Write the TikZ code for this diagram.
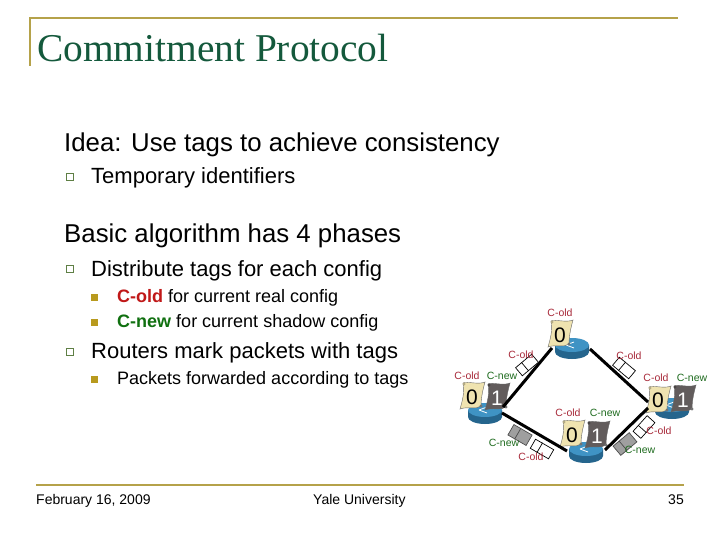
\documentclass[tikz,border=0pt]{standalone}
\usepackage{fontspec}
\setmainfont{Liberation Sans}
\newfontfamily\titlefont{Liberation Serif}
\usetikzlibrary{calc}
\definecolor{titlegreen}{HTML}{14593C}
\definecolor{rulegold}{HTML}{B5A24A}
\definecolor{bulletgold}{HTML}{B89A1E}
\definecolor{qgreen}{HTML}{5F7F45}
\definecolor{oldred}{HTML}{C01818}
\definecolor{newgreen}{HTML}{107010}
\definecolor{lblred}{HTML}{A82A3A}
\definecolor{lblgreen}{HTML}{1E6B1E}
\definecolor{scrollcream}{HTML}{EFE3B0}
\definecolor{scrollgrey}{HTML}{625C5C}
\definecolor{routerblue}{HTML}{2F7FB0}
\definecolor{routertop}{HTML}{3F93C4}
\tikzset{
  body/.style={anchor=base west,inner sep=0pt,text=black},
  lvlone/.style={body,font=\fontsize{25.8}{28}\selectfont},
  lvltwo/.style={body,font=\fontsize{22}{24}\selectfont},
  lvlthree/.style={body,font=\fontsize{18}{21}\selectfont},
  foot/.style={body,font=\fontsize{14}{17}\selectfont},
  tagold/.style={anchor=center,inner sep=0pt,text=lblred,font=\fontsize{10.5}{12}\selectfont},
  tagnew/.style={anchor=center,inner sep=0pt,text=lblgreen,font=\fontsize{10.5}{12}\selectfont},
  wire/.style={draw=black,line width=3pt},
  qbullet/.style={draw=qgreen,fill=white,line width=1pt,minimum size=7pt,inner sep=0pt},
  nbullet/.style={draw=none,fill=bulletgold,minimum size=7pt,inner sep=0pt},
  pktwhite/.style={draw=black,fill=white,line width=0.7pt,minimum width=21pt,minimum height=10.5pt,inner sep=0pt},
  pktgrey/.style={draw=black!70,fill=gray!75,line width=0.7pt,minimum width=21pt,minimum height=12pt,inner sep=0pt},
  routerhub/.style={circle,minimum size=20pt,inner sep=0pt},
  scrollnum/.style={inner sep=0pt,font=\fontsize{21}{23}\selectfont}
}
\newcommand{\routerdisc}[2]{%
  \fill[routerblue!80!black] (#1-17,#2-3) -- (#1-17,#2+4) arc[start angle=180,end angle=0,x radius=17,y radius=7] -- (#1+17,#2-3) -- cycle;
  \fill[routertop] (#1,#2-3) ellipse[x radius=17,y radius=7];
  \draw[white,line width=0.8pt] (#1-6,#2-3) -- (#1+2,#2-6) (#1-6,#2-3) -- (#1+2,#2);
}
\newcommand{\scrollshape}[3]{% cx cy fill
  \fill[#3,draw=black!60,line width=0.4pt]
    (#1-9,#2-13) .. controls (#1-4,#2-15) and (#1+6,#2-11) .. (#1+13,#2-14)
    .. controls (#1+11,#2-7) and (#1+9,#2+2) .. (#1+9,#2+10)
    .. controls (#1+4,#2+14) and (#1-4,#2+10) .. (#1-12,#2+13)
    .. controls (#1-10,#2+6) and (#1-7,#2-4) .. (#1-9,#2-13) -- cycle;
  \fill[#3!75!black] (#1-8,#2-12) circle[radius=1.6];
  \fill[black!55] (#1+9,#2+10) circle[radius=1.6];
}
\newcommand{\packetdiv}[2]{%
  \draw[#2] ($(#1.north west)!0.38!(#1.north east)$) -- ($(#1.south west)!0.38!(#1.south east)$);
}
\begin{document}
\begin{tikzpicture}[x=1pt,y=-1pt]
\useasboundingbox (0,0) rectangle (720,540);
\fill[white] (0,0) rectangle (720,540);
% header rule
\draw[rulegold,line width=1.6pt] (30,66) -- (30,18) -- (678,18);
\draw[rulegold,line width=1.6pt] (36,485) -- (684,485);
\node[anchor=base west,inner sep=0pt,text=titlegreen,font=\titlefont\fontsize{39.4}{42}\selectfont] (title) at (37,62) {Commitment Protocol};
% text
\node[lvlone] (idea) at (64,152) {Idea: Use tags to achieve consistency};
\node[qbullet] (b1) at (70,177) {};
\node[lvltwo] (t1) at (91,184) {Temporary identifiers};
\node[lvlone] (basic) at (64,243) {Basic algorithm has 4 phases};
\node[qbullet] (b2) at (70,269) {};
\node[lvltwo] (t2) at (91,276) {Distribute tags for each config};
\node[nbullet] (b3) at (94,297) {};
\node[lvlthree] (t3) at (117,302) {\textcolor{oldred}{\textbf{C-old}} for current real config};
\node[nbullet] (b4) at (94,322) {};
\node[lvlthree] (t4) at (117,327) {\textcolor{newgreen}{\textbf{C-new}} for current shadow config};
\node[qbullet] (b5) at (70,352) {};
\node[lvltwo] (t5) at (91,358) {Routers mark packets with tags};
\node[nbullet] (b6) at (94,379) {};
\node[lvlthree] (t6) at (117,384) {Packets forwarded according to tags};
% footer
\node[foot] (date) at (36,504) {February 16, 2009};
\node[foot] (yale) at (313,504) {Yale University};
\node[foot,anchor=base east] (page) at (684,504) {35};
% routers
\routerdisc{572}{348}
\routerdisc{485}{413}
\routerdisc{672}{408}
\routerdisc{586}{452}
\node[routerhub] (rtop) at (572,348) {};
\node[routerhub] (rleft) at (485,413) {};
\node[routerhub] (rright) at (672,408) {};
\node[routerhub] (rbot) at (586,452) {};
% scrolls
\scrollshape{560}{334}{scrollcream}
\node[scrollnum,text=black] (s0t) at (560,335) {0};
\scrollshape{472}{396}{scrollcream}
\node[scrollnum,text=black] (s0l) at (472,397) {0};
\scrollshape{497}{397}{scrollgrey}
\node[scrollnum,text=white] (s1l) at (497,398) {1};
\scrollshape{658}{400}{scrollcream}
\node[scrollnum,text=black] (s0r) at (658,400) {0};
\scrollshape{683}{399}{scrollgrey}
\node[scrollnum,text=white] (s1r) at (683,400) {1};
\scrollshape{572}{434}{scrollcream}
\node[scrollnum,text=black] (s0b) at (572,435) {0};
\scrollshape{597}{435}{scrollgrey}
\node[scrollnum,text=white] (s1b) at (597,436) {1};
% connectors
\coordinate (tl) at (552,348);
\coordinate (lt) at (503,407);
\coordinate (tr) at (590,349);
\coordinate (rt) at (648,402);
\coordinate (lb) at (502,413);
\coordinate (bl) at (567,451);
\coordinate (br) at (605,450);
\coordinate (rb) at (648,408);
\draw[wire] (tl) -- (lt);
\draw[wire] (tr) -- (rt);
\draw[wire] (lb) -- (bl);
\draw[wire] (br) -- (rb);
% packets
\node[pktwhite,rotate=40] (p1) at (527,365) {};
\packetdiv{p1}{black,line width=0.7pt}
\node[pktwhite,rotate=-40] (p2) at (624,368) {};
\packetdiv{p2}{black,line width=0.7pt}
\node[pktwhite,rotate=48] (p3) at (644,427) {};
\packetdiv{p3}{black,line width=0.7pt}
\node[pktwhite,rotate=-30] (p4) at (542,449) {};
\packetdiv{p4}{black,line width=0.7pt}
\node[pktgrey,rotate=-30] (p5) at (520,435) {};
\packetdiv{p5}{black!70,line width=0.7pt}
\node[pktgrey,rotate=40] (p6) at (625,444) {};
\packetdiv{p6}{black!70,line width=0.7pt}
% tags
\node[tagold] (a1) at (560,313) {C-old};
\node[tagold] (a2) at (521,355) {C-old};
\node[tagold] (a3) at (629,356) {C-old};
\node[tagold] (a4) at (467,376) {C-old};
\node[tagnew] (a5) at (502,376) {C-new};
\node[tagold] (a6) at (656,378) {C-old};
\node[tagnew] (a7) at (692,378) {C-new};
\node[tagold] (a8) at (568,413) {C-old};
\node[tagnew] (a9) at (605,413) {C-new};
\node[tagold] (a10) at (659,431) {C-old};
\node[tagnew] (a11) at (640,450) {C-new};
\node[tagnew] (a12) at (504,443) {C-new};
\node[tagold] (a13) at (531,457) {C-old};
\end{tikzpicture}
\end{document}
